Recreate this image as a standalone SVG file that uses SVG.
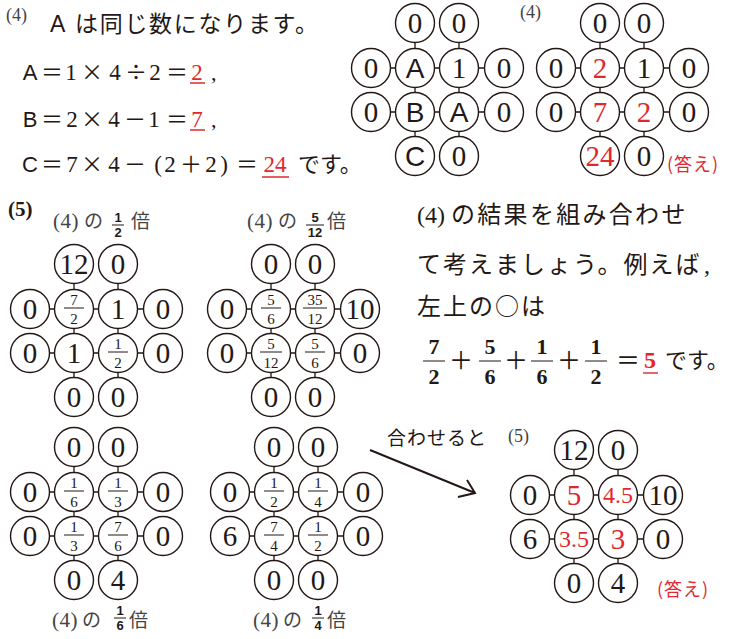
<svg xmlns="http://www.w3.org/2000/svg" width="743" height="639" viewBox="0 0 743 639">
<style>
.c{fill:#fff;stroke:#231815;stroke-width:1.4}
.n{font-family:"Liberation Serif","Times New Roman",serif;font-size:29px;text-anchor:middle;fill:#231815}
.s{font-family:"Liberation Sans",sans-serif;font-size:28px;text-anchor:middle;fill:#231815}
.f{font-family:"Liberation Serif",serif;font-size:15px;text-anchor:middle;fill:#231815}
.d{font-family:"Liberation Serif",serif;font-size:22px;font-weight:bold;text-anchor:middle;fill:#231815}
.fb{stroke:#231815;stroke-width:1;fill:none}
.g{fill:none;stroke:#231815;stroke-width:1.3}
.j{font-family:"Noto Sans CJK JP",sans-serif;fill:#231815}
.t{font-family:"Liberation Serif",serif;fill:#231815}
.sa{font-family:"Liberation Sans",sans-serif;fill:#231815}
.lab{font-family:"Liberation Serif",serif;fill:#444}
.labj{font-family:"Noto Sans CJK JP",sans-serif;fill:#444}
.lf{font-family:"Liberation Sans",sans-serif;font-size:13px;font-weight:bold;text-anchor:middle;fill:#231815}
.ul{stroke:#e0282e;stroke-width:1.4}
.r{fill:#e0282e}
.sm{font-size:24px}
</style>
<defs>
<path id="grid" class="g" d="M-44 45H89M-44 89H89M0 0V133M44 0V133"/>
</defs>

<!-- connectors -->
<g id="connectors">
<use href="#grid" transform="translate(415,23)"/>
<use href="#grid" transform="translate(600,23)"/>
<use href="#grid" transform="translate(74,264)"/>
<use href="#grid" transform="translate(271,264)"/>
<use href="#grid" transform="translate(74,447)"/>
<use href="#grid" transform="translate(274,447)"/>
<use href="#grid" transform="translate(574,450)"/>
<path d="M370 450L475 493M458 497L475 493L467 480" fill="none" stroke="#231815" stroke-width="2"/>
</g>

<!-- top-left text (4) -->
<g id="text4">
<text class="lab" x="6" y="21" font-size="18">(4)</text>
<text class="sa" x="50" y="32" font-size="23">A</text>
<text class="j" x="75" y="32" font-size="23" letter-spacing="1.7">は同じ数になります。</text>

<text class="sa" x="30" y="80" font-size="22" text-anchor="middle">A</text>
<g class="j" font-size="22" text-anchor="middle">
<text x="52" y="80">＝</text><text x="92" y="80">×</text><text x="136" y="80">÷</text><text x="177" y="80">＝</text>
<text x="52" y="127">＝</text><text x="92" y="127">×</text><text x="135" y="127">－</text><text x="177" y="127">＝</text>
<text x="52" y="172">＝</text><text x="92" y="172">×</text><text x="135" y="172">－</text><text x="191" y="172">＋</text><text x="247" y="172">＝</text>
</g>
<g class="t" font-size="23" text-anchor="middle">
<text x="71" y="80">1</text><text x="115" y="80">4</text><text x="155" y="80">2</text><text x="197" y="80" class="r">2</text>
<text x="72" y="127">2</text><text x="114" y="127">4</text><text x="154" y="127">1</text><text x="197" y="127" class="r">7</text>
<text x="72" y="172">7</text><text x="114" y="172">4</text><text x="158" y="172">(</text><text x="170" y="172">2</text><text x="211" y="172">2</text><text x="224" y="172">)</text><text x="275" y="172" class="r">24</text>
</g>
<text class="t" x="211" y="80" font-size="22">,</text>
<text class="t" x="211" y="127" font-size="22">,</text>
<text class="sa" x="30" y="127" font-size="22" text-anchor="middle">B</text>
<text class="sa" x="30" y="172" font-size="22" text-anchor="middle">C</text>
<text class="j" x="298" y="172" font-size="22">です。</text>
<path class="ul" d="M190 83H205M190 130H205M262 177H289"/>
<text class="lab" x="520" y="18" font-size="18">(4)</text>
<text class="j r" x="667" y="171" font-size="18" letter-spacing="1">(答え)</text>
</g>

<!-- diagram (4) left -->
<g id="d4a" transform="translate(415,23)">
<g id="d4a-1"><circle class="c" r="19.5"/><text class="n" y="10">0</text></g>
<g id="d4a-2" transform="translate(44,0)"><circle class="c" r="19.5"/><text class="n" y="10">0</text></g>
<g id="d4a-3" transform="translate(-44,45)"><circle class="c" r="19.5"/><text class="n" y="10">0</text></g>
<g id="d4a-4" transform="translate(0,45)"><circle class="c" r="19.5"/><text class="s" y="10">A</text></g>
<g id="d4a-5" transform="translate(44,45)"><circle class="c" r="19.5"/><text class="n" y="10">1</text></g>
<g id="d4a-6" transform="translate(89,45)"><circle class="c" r="19.5"/><text class="n" y="10">0</text></g>
<g id="d4a-7" transform="translate(-44,89)"><circle class="c" r="19.5"/><text class="n" y="10">0</text></g>
<g id="d4a-8" transform="translate(0,89)"><circle class="c" r="19.5"/><text class="s" y="10">B</text></g>
<g id="d4a-9" transform="translate(44,89)"><circle class="c" r="19.5"/><text class="s" y="10">A</text></g>
<g id="d4a-10" transform="translate(89,89)"><circle class="c" r="19.5"/><text class="n" y="10">0</text></g>
<g id="d4a-11" transform="translate(0,133)"><circle class="c" r="19.5"/><text class="s" y="10">C</text></g>
<g id="d4a-12" transform="translate(44,133)"><circle class="c" r="19.5"/><text class="n" y="10">0</text></g>
</g>

<!-- diagram (4) answer -->
<g id="d4b" transform="translate(600,23)">
<g id="d4b-1"><circle class="c" r="19.5"/><text class="n" y="10">0</text></g>
<g id="d4b-2" transform="translate(44,0)"><circle class="c" r="19.5"/><text class="n" y="10">0</text></g>
<g id="d4b-3" transform="translate(-44,45)"><circle class="c" r="19.5"/><text class="n" y="10">0</text></g>
<g id="d4b-4" transform="translate(0,45)"><circle class="c" r="19.5"/><text class="n r" y="10">2</text></g>
<g id="d4b-5" transform="translate(44,45)"><circle class="c" r="19.5"/><text class="n" y="10">1</text></g>
<g id="d4b-6" transform="translate(89,45)"><circle class="c" r="19.5"/><text class="n" y="10">0</text></g>
<g id="d4b-7" transform="translate(-44,89)"><circle class="c" r="19.5"/><text class="n" y="10">0</text></g>
<g id="d4b-8" transform="translate(0,89)"><circle class="c" r="19.5"/><text class="n r" y="10">7</text></g>
<g id="d4b-9" transform="translate(44,89)"><circle class="c" r="19.5"/><text class="n r" y="10">2</text></g>
<g id="d4b-10" transform="translate(89,89)"><circle class="c" r="19.5"/><text class="n" y="10">0</text></g>
<g id="d4b-11" transform="translate(0,133)"><circle class="c" r="19.5"/><text class="n r" y="10">24</text></g>
<g id="d4b-12" transform="translate(44,133)"><circle class="c" r="19.5"/><text class="n" y="10">0</text></g>
</g>

<!-- (5) labels -->
<g id="text5">
<text class="t" x="8" y="216" font-size="21" font-weight="bold">(5)</text>
<text class="lab" x="53" y="228" font-size="21" letter-spacing="0.5">(4)</text><text class="labj" x="84" y="228" font-size="19">の</text>
<text class="lf" x="118" y="222">1</text><path class="fb" d="M112 225H124"/><text class="lf" x="118" y="237">2</text>
<text class="labj" x="131" y="228" font-size="19">倍</text>

<text class="lab" x="247" y="228" font-size="21" letter-spacing="0.5">(4)</text><text class="labj" x="278" y="228" font-size="19">の</text>
<text class="lf" x="315" y="222">5</text><path class="fb" d="M306 225H324"/><text class="lf" x="315" y="237">12</text>
<text class="labj" x="327" y="228" font-size="19">倍</text>

<text class="lab" x="52" y="627" font-size="21" letter-spacing="0.5">(4)</text><text class="labj" x="82" y="627" font-size="19">の</text>
<text class="lf" x="120" y="615">1</text><path class="fb" d="M114 618H126"/><text class="lf" x="120" y="630">6</text>
<text class="labj" x="129" y="627" font-size="19">倍</text>

<text class="lab" x="253" y="627" font-size="21" letter-spacing="0.5">(4)</text><text class="labj" x="283" y="627" font-size="19">の</text>
<text class="lf" x="318" y="615">1</text><path class="fb" d="M312 618H324"/><text class="lf" x="318" y="630">4</text>
<text class="labj" x="327" y="627" font-size="19">倍</text>
</g>

<!-- diagram 1/2 -->
<g id="d5a" transform="translate(74,264)">
<g id="d5a-1"><circle class="c" r="19.5"/><text class="n" y="10">12</text></g>
<g id="d5a-2" transform="translate(44,0)"><circle class="c" r="19.5"/><text class="n" y="10">0</text></g>
<g id="d5a-3" transform="translate(-44,45)"><circle class="c" r="19.5"/><text class="n" y="10">0</text></g>
<g id="d5a-4" transform="translate(0,45)"><circle class="c" r="19.5"/><text class="f" y="-4.5">7</text><path class="fb" d="M-10-1H10"/><text class="f" y="15">2</text></g>
<g id="d5a-5" transform="translate(44,45)"><circle class="c" r="19.5"/><text class="n" y="10">1</text></g>
<g id="d5a-6" transform="translate(89,45)"><circle class="c" r="19.5"/><text class="n" y="10">0</text></g>
<g id="d5a-7" transform="translate(-44,89)"><circle class="c" r="19.5"/><text class="n" y="10">0</text></g>
<g id="d5a-8" transform="translate(0,89)"><circle class="c" r="19.5"/><text class="n" y="10">1</text></g>
<g id="d5a-9" transform="translate(44,89)"><circle class="c" r="19.5"/><text class="f" y="-4.5">1</text><path class="fb" d="M-10-1H10"/><text class="f" y="15">2</text></g>
<g id="d5a-10" transform="translate(89,89)"><circle class="c" r="19.5"/><text class="n" y="10">0</text></g>
<g id="d5a-11" transform="translate(0,133)"><circle class="c" r="19.5"/><text class="n" y="10">0</text></g>
<g id="d5a-12" transform="translate(44,133)"><circle class="c" r="19.5"/><text class="n" y="10">0</text></g>
</g>

<!-- diagram 5/12 -->
<g id="d5b" transform="translate(271,264)">
<g id="d5b-1"><circle class="c" r="19.5"/><text class="n" y="10">0</text></g>
<g id="d5b-2" transform="translate(44,0)"><circle class="c" r="19.5"/><text class="n" y="10">0</text></g>
<g id="d5b-3" transform="translate(-44,45)"><circle class="c" r="19.5"/><text class="n" y="10">0</text></g>
<g id="d5b-4" transform="translate(0,45)"><circle class="c" r="19.5"/><text class="f" y="-4.5">5</text><path class="fb" d="M-10-1H10"/><text class="f" y="15">6</text></g>
<g id="d5b-5" transform="translate(44,45)"><circle class="c" r="19.5"/><text class="f" y="-4.5">35</text><path class="fb" d="M-12-1H12"/><text class="f" y="15">12</text></g>
<g id="d5b-6" transform="translate(89,45)"><circle class="c" r="19.5"/><text class="n" y="10">10</text></g>
<g id="d5b-7" transform="translate(-44,89)"><circle class="c" r="19.5"/><text class="n" y="10">0</text></g>
<g id="d5b-8" transform="translate(0,89)"><circle class="c" r="19.5"/><text class="f" y="-4.5">5</text><path class="fb" d="M-11-1H11"/><text class="f" y="15">12</text></g>
<g id="d5b-9" transform="translate(44,89)"><circle class="c" r="19.5"/><text class="f" y="-4.5">5</text><path class="fb" d="M-10-1H10"/><text class="f" y="15">6</text></g>
<g id="d5b-10" transform="translate(89,89)"><circle class="c" r="19.5"/><text class="n" y="10">0</text></g>
<g id="d5b-11" transform="translate(0,133)"><circle class="c" r="19.5"/><text class="n" y="10">0</text></g>
<g id="d5b-12" transform="translate(44,133)"><circle class="c" r="19.5"/><text class="n" y="10">0</text></g>
</g>

<!-- diagram 1/6 -->
<g id="d5c" transform="translate(74,447)">
<g id="d5c-1"><circle class="c" r="19.5"/><text class="n" y="10">0</text></g>
<g id="d5c-2" transform="translate(44,0)"><circle class="c" r="19.5"/><text class="n" y="10">0</text></g>
<g id="d5c-3" transform="translate(-44,45)"><circle class="c" r="19.5"/><text class="n" y="10">0</text></g>
<g id="d5c-4" transform="translate(0,45)"><circle class="c" r="19.5"/><text class="f" y="-4.5">1</text><path class="fb" d="M-10-1H10"/><text class="f" y="15">6</text></g>
<g id="d5c-5" transform="translate(44,45)"><circle class="c" r="19.5"/><text class="f" y="-4.5">1</text><path class="fb" d="M-10-1H10"/><text class="f" y="15">3</text></g>
<g id="d5c-6" transform="translate(89,45)"><circle class="c" r="19.5"/><text class="n" y="10">0</text></g>
<g id="d5c-7" transform="translate(-44,89)"><circle class="c" r="19.5"/><text class="n" y="10">0</text></g>
<g id="d5c-8" transform="translate(0,89)"><circle class="c" r="19.5"/><text class="f" y="-4.5">1</text><path class="fb" d="M-10-1H10"/><text class="f" y="15">3</text></g>
<g id="d5c-9" transform="translate(44,89)"><circle class="c" r="19.5"/><text class="f" y="-4.5">7</text><path class="fb" d="M-10-1H10"/><text class="f" y="15">6</text></g>
<g id="d5c-10" transform="translate(89,89)"><circle class="c" r="19.5"/><text class="n" y="10">0</text></g>
<g id="d5c-11" transform="translate(0,133)"><circle class="c" r="19.5"/><text class="n" y="10">0</text></g>
<g id="d5c-12" transform="translate(44,133)"><circle class="c" r="19.5"/><text class="n" y="10">4</text></g>
</g>

<!-- diagram 1/4 -->
<g id="d5d" transform="translate(274,447)">
<g id="d5d-1"><circle class="c" r="19.5"/><text class="n" y="10">0</text></g>
<g id="d5d-2" transform="translate(44,0)"><circle class="c" r="19.5"/><text class="n" y="10">0</text></g>
<g id="d5d-3" transform="translate(-44,45)"><circle class="c" r="19.5"/><text class="n" y="10">0</text></g>
<g id="d5d-4" transform="translate(0,45)"><circle class="c" r="19.5"/><text class="f" y="-4.5">1</text><path class="fb" d="M-10-1H10"/><text class="f" y="15">2</text></g>
<g id="d5d-5" transform="translate(44,45)"><circle class="c" r="19.5"/><text class="f" y="-4.5">1</text><path class="fb" d="M-10-1H10"/><text class="f" y="15">4</text></g>
<g id="d5d-6" transform="translate(89,45)"><circle class="c" r="19.5"/><text class="n" y="10">0</text></g>
<g id="d5d-7" transform="translate(-44,89)"><circle class="c" r="19.5"/><text class="n" y="10">6</text></g>
<g id="d5d-8" transform="translate(0,89)"><circle class="c" r="19.5"/><text class="f" y="-4.5">7</text><path class="fb" d="M-10-1H10"/><text class="f" y="15">4</text></g>
<g id="d5d-9" transform="translate(44,89)"><circle class="c" r="19.5"/><text class="f" y="-4.5">1</text><path class="fb" d="M-10-1H10"/><text class="f" y="15">2</text></g>
<g id="d5d-10" transform="translate(89,89)"><circle class="c" r="19.5"/><text class="n" y="10">0</text></g>
<g id="d5d-11" transform="translate(0,133)"><circle class="c" r="19.5"/><text class="n" y="10">0</text></g>
<g id="d5d-12" transform="translate(44,133)"><circle class="c" r="19.5"/><text class="n" y="10">0</text></g>
</g>

<!-- right explanation -->
<g id="explain">
<text class="t" x="417" y="223" font-size="24">(4)</text>
<text class="j" x="451" y="223" font-size="24" letter-spacing="2.3">の結果を組み合わせ</text>
<text class="j" x="417" y="273" font-size="24" letter-spacing="2">て考えましょう。例えば</text>
<text class="t" x="704" y="273" font-size="24">,</text>
<text class="j" x="417" y="315" font-size="24" letter-spacing="2">左上の○は</text>
<g class="d">
<text x="434" y="354">7</text><text x="434" y="384">2</text>
<text x="490" y="354">5</text><text x="490" y="384">6</text>
<text x="542" y="354">1</text><text x="542" y="384">6</text>
<text x="596" y="354">1</text><text x="596" y="384">2</text>
</g>
<path class="fb" stroke-width="1.3" d="M423 361H445M479 361H501M531 361H553M585 361H607"/>
<g class="j" font-size="24" text-anchor="middle">
<text x="461" y="369">＋</text><text x="516" y="369">＋</text><text x="569" y="369">＋</text><text x="628" y="369">＝</text>
</g>
<text class="t r" x="650" y="368" font-size="24" font-weight="bold" text-anchor="middle">5</text>
<path class="ul" d="M643 373H658"/>
<text class="j" x="665" y="368" font-size="22">です。</text>
</g>

<!-- bottom right -->
<g id="text5b">
<text class="j" x="387" y="445" font-size="19" letter-spacing="1">合わせると</text>
<text class="lab" x="508" y="442" font-size="18">(5)</text>
<text class="j r" x="657" y="596" font-size="18" letter-spacing="1">(答え)</text>
</g>

<g id="d5f" transform="translate(574,450)">
<g id="d5f-1"><circle class="c" r="19.5"/><text class="n" y="10">12</text></g>
<g id="d5f-2" transform="translate(44,0)"><circle class="c" r="19.5"/><text class="n" y="10">0</text></g>
<g id="d5f-3" transform="translate(-44,45)"><circle class="c" r="19.5"/><text class="n" y="10">0</text></g>
<g id="d5f-4" transform="translate(0,45)"><circle class="c" r="19.5"/><text class="n r" y="10">5</text></g>
<g id="d5f-5" transform="translate(44,45)"><circle class="c" r="19.5"/><text class="n r sm" y="8">4.5</text></g>
<g id="d5f-6" transform="translate(89,45)"><circle class="c" r="19.5"/><text class="n" y="10">10</text></g>
<g id="d5f-7" transform="translate(-44,89)"><circle class="c" r="19.5"/><text class="n" y="10">6</text></g>
<g id="d5f-8" transform="translate(0,89)"><circle class="c" r="19.5"/><text class="n r sm" y="8">3.5</text></g>
<g id="d5f-9" transform="translate(44,89)"><circle class="c" r="19.5"/><text class="n r" y="10">3</text></g>
<g id="d5f-10" transform="translate(89,89)"><circle class="c" r="19.5"/><text class="n" y="10">0</text></g>
<g id="d5f-11" transform="translate(0,133)"><circle class="c" r="19.5"/><text class="n" y="10">0</text></g>
<g id="d5f-12" transform="translate(44,133)"><circle class="c" r="19.5"/><text class="n" y="10">4</text></g>
</g>
</svg>
